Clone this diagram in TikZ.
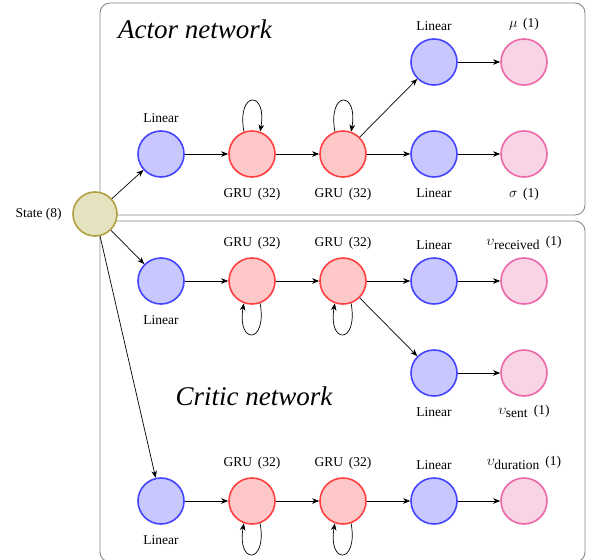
\documentclass[tikz,border=0pt]{standalone}
\usepackage{fontspec}
\setmainfont{Liberation Serif}
\usetikzlibrary{arrows.meta}
\definecolor{linD}{RGB}{68,68,255}
\definecolor{linF}{RGB}{200,200,255}
\definecolor{gruD}{RGB}{255,64,64}
\definecolor{gruF}{RGB}{255,200,200}
\definecolor{outD}{RGB}{238,102,170}
\definecolor{outF}{RGB}{249,212,228}
\definecolor{stD}{RGB}{176,160,64}
\definecolor{stF}{RGB}{229,226,192}
\definecolor{boxD}{RGB}{136,136,136}
\newcommand{\grulbl}{GRU~\,(32)}
\begin{document}
\begin{tikzpicture}[x=1pt,y=1pt,
  nn/.style={circle, minimum size=46pt, inner sep=0pt, line width=1.6pt},
  lin/.style={nn, draw=linD, fill=linF},
  gru/.style={nn, draw=gruD, fill=gruF},
  outn/.style={nn, draw=outD, fill=outF},
  stn/.style={nn, draw=stD, fill=stF, minimum size=44pt},
  lbl/.style={font=\fontsize{13.5}{15}\selectfont, label distance=4pt},
  lblb/.style={lbl, label distance=7pt},
  title/.style={font=\itshape\fontsize{27}{31}\selectfont},
  netbox/.style={draw=boxD, line width=0.9pt, rounded corners=10pt},
  arr/.style={-{Stealth[length=7pt,width=5.5pt,inset=2pt]}, line width=0.7pt}]
\useasboundingbox (0,0) rectangle (590,-560);
% boxes
\draw[netbox] (100,-3) rectangle (585,-215);
\draw[netbox] (100,-221) rectangle (585,-562);
\node[title] (ta) at (195,-29) {Actor network};
\node[title] (tc) at (254,-396) {Critic network};
% state
\node[stn, label={[lbl,label distance=7pt]left:State~(8)}] (s) at (95,-214) {};
% actor
\node[lin, label={[lbl]above:Linear}] (a1) at (161,-154) {};
\node[gru, label={[lblb]below:\grulbl}] (a2) at (252,-154) {};
\node[gru, label={[lblb]below:\grulbl}] (a3) at (343,-154) {};
\node[lin, label={[lblb]below:Linear}] (a4) at (434,-154) {};
\node[outn, label={[lblb]below:$\sigma$~\,(1)}] (a5) at (524,-154) {};
\node[lin, label={[lbl]above:Linear}] (a6) at (434,-62) {};
\node[outn, label={[lbl]above:$\mu$~\,(1)}] (a7) at (524,-62) {};
% critic row 1
\node[lin, label={[lblb]below:Linear}] (c1) at (161,-281) {};
\node[gru, label={[lbl]above:\grulbl}] (c2) at (252,-281) {};
\node[gru, label={[lbl]above:\grulbl}] (c3) at (343,-281) {};
\node[lin, label={[lbl]above:Linear}] (c4) at (434,-281) {};
\node[outn, label={[lbl]above:$\upsilon_{\mbox{received}}$~\,(1)}] (c5) at (524,-281) {};
% critic row 2
\node[lin, label={[lblb]below:Linear}] (c6) at (434,-373) {};
\node[outn, label={[lbl,label distance=5pt]below:$\upsilon_{\mbox{sent}}$~\,(1)}] (c7) at (524,-373) {};
% critic row 3
\node[lin, label={[lblb]below:Linear}] (d1) at (161,-501) {};
\node[gru, label={[lbl]above:\grulbl}] (d2) at (252,-501) {};
\node[gru, label={[lbl]above:\grulbl}] (d3) at (343,-501) {};
\node[lin, label={[lbl]above:Linear}] (d4) at (434,-501) {};
\node[outn, label={[lbl]above:$\upsilon_{\mbox{duration}}$~\,(1)}] (d5) at (524,-501) {};
% edges
\draw[arr] (s) -- (a1);
\draw[arr] (s) -- (c1);
\draw[arr] (s) -- (d1);
\draw[arr] (a1) -- (a2);
\draw[arr] (a2) -- (a3);
\draw[arr] (a3) -- (a4);
\draw[arr] (a4) -- (a5);
\draw[arr] (a3) -- (a6);
\draw[arr] (a6) -- (a7);
\draw[arr] (c1) -- (c2);
\draw[arr] (c2) -- (c3);
\draw[arr] (c3) -- (c4);
\draw[arr] (c4) -- (c5);
\draw[arr] (c3) -- (c6);
\draw[arr] (c6) -- (c7);
\draw[arr] (d1) -- (d2);
\draw[arr] (d2) -- (d3);
\draw[arr] (d3) -- (d4);
\draw[arr] (d4) -- (d5);
% self loops
\foreach \g in {a2,a3}
  \draw[arr] (\g.110) .. controls +(100:42) and +(80:42) .. (\g.70);
\foreach \g in {c2,c3,d2,d3}
  \draw[arr] (\g.-70) .. controls +(-80:42) and +(-100:42) .. (\g.-110);
\end{tikzpicture}
\end{document}
